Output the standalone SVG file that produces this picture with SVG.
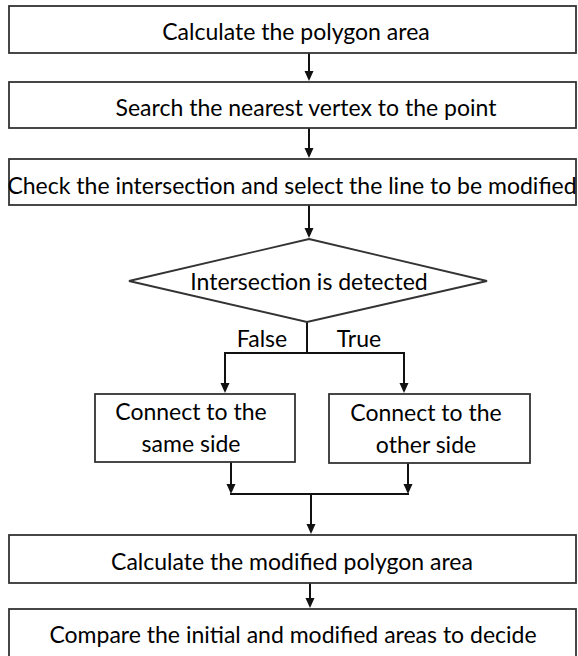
<svg xmlns="http://www.w3.org/2000/svg" width="578" height="656" viewBox="0 0 578 656">
  <style>
    .box { fill: #ffffff; stroke: #333333; stroke-width: 1.8; }
    .lbl { font-family: Lato, "Liberation Sans", sans-serif; font-size: 23px; fill: #000000; text-anchor: middle; }
    .conn { fill: none; stroke: #111111; stroke-width: 2; }
    .arr { marker-end: url(#ah); }
  </style>
  <defs>
    <marker id="ah" markerWidth="10" markerHeight="10" refX="6" refY="5" orient="auto" markerUnits="userSpaceOnUse">
      <path d="M0,0.5 L10,5 L0,9.5 z" fill="#111111"/>
    </marker>
  </defs>
  <rect width="578" height="656" fill="#ffffff"/>

  <g id="connectors">
    <line class="conn arr" x1="309" y1="53" x2="309" y2="77"/>
    <line class="conn arr" x1="309" y1="128" x2="309" y2="154"/>
    <line class="conn arr" x1="309" y1="205" x2="309" y2="234"/>
    <polyline class="conn" points="307,322 307,353"/>
    <polyline class="conn arr" points="307,353 225,353 225,389"/>
    <polyline class="conn arr" points="307,353 404,353 404,389"/>
    <line class="conn arr" x1="231" y1="462" x2="231" y2="490"/>
    <line class="conn arr" x1="408" y1="463" x2="408" y2="490"/>
    <line class="conn" x1="230" y1="494" x2="409" y2="494"/>
    <line class="conn arr" x1="311" y1="494" x2="311" y2="530"/>
    <line class="conn arr" x1="310" y1="583" x2="310" y2="604"/>
  </g>

  <g id="n1">
    <rect class="box" x="9" y="6" width="567" height="47"/>
    <text class="lbl" x="296" y="40">Calculate the polygon area</text>
  </g>
  <g id="n2">
    <rect class="box" x="9" y="82" width="567" height="46"/>
    <text class="lbl" x="306" y="116">Search the nearest vertex to the point</text>
  </g>
  <g id="n3">
    <rect class="box" x="9" y="159" width="567" height="46"/>
    <text class="lbl" x="292" y="194">Check the intersection and select the line to be modified</text>
  </g>
  <g id="n4">
    <polygon class="box" points="309,239 487,281 307,322 129,281"/>
    <text class="lbl" x="309" y="290">Intersection is detected</text>
  </g>
  <g id="lbl-false">
    <text class="lbl" x="262" y="347">False</text>
  </g>
  <g id="lbl-true">
    <text class="lbl" x="359" y="347">True</text>
  </g>
  <g id="n5">
    <rect class="box" x="95" y="394" width="200" height="68"/>
    <text class="lbl" x="191" y="420">Connect to the</text>
    <text class="lbl" x="191" y="452">same side</text>
  </g>
  <g id="n6">
    <rect class="box" x="329" y="394" width="201" height="69"/>
    <text class="lbl" x="426" y="421">Connect to the</text>
    <text class="lbl" x="426" y="453">other side</text>
  </g>
  <g id="n7">
    <rect class="box" x="9" y="535" width="567" height="48"/>
    <text class="lbl" x="292" y="570">Calculate the modified polygon area</text>
  </g>
  <g id="n8">
    <rect class="box" x="9" y="609" width="567" height="50"/>
    <text class="lbl" x="293" y="643">Compare the initial and modified areas to decide</text>
  </g>
</svg>
